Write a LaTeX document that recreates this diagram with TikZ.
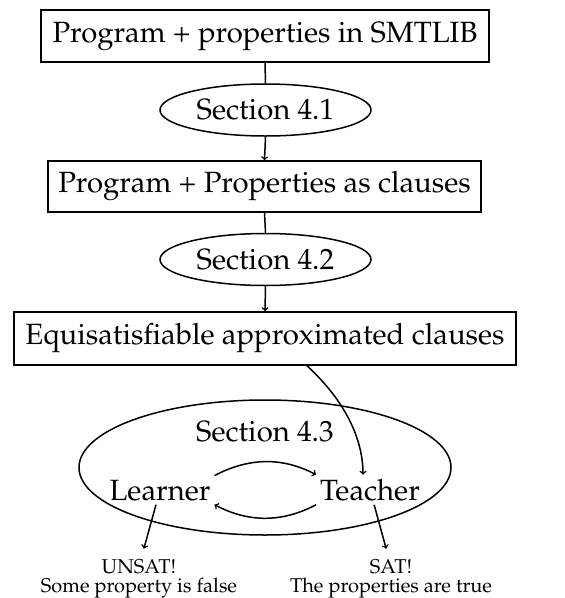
\documentclass[tikz,border=0pt]{standalone}
\usepackage[T1]{fontenc}
\renewcommand{\rmdefault}{ppl}
\usetikzlibrary{shapes.geometric}
\begin{document}
\begin{tikzpicture}[x=1pt,y=-1pt,
  line width=1.5pt,
  big/.style={font=\fontsize{29.3}{35}\selectfont},
  small/.style={font=\fontsize{20}{24}\selectfont, inner sep=2pt},
  box/.style={big, draw, rectangle, inner sep=0pt},
  sec/.style={big, draw, ellipse, inner sep=0pt, minimum width=211pt, minimum height=52pt},
  conn/.style={->}
]
\useasboundingbox (0,0) rectangle (565,598);
\node[box, minimum width=448pt, minimum height=52pt] (b1) at (265,36) {Program + properties in SMTLIB};
\node[sec] (s1) at (265.5,110) {Section 4.1};
\node[box, minimum width=433pt, minimum height=51pt] (b2) at (264.5,186.5) {Program + Properties as clauses};
\node[sec] (s2) at (265.5,259.5) {Section 4.2};
\node[box, minimum width=502pt, minimum height=53pt] (b3) at (265,338.5) {Equisatisfiable approximated clauses};
\node[draw, ellipse, minimum width=372pt, minimum height=135pt, inner sep=0pt] (big) at (265,467.5) {};
\node[big, anchor=base] (s3) at (265,441) {Section 4.3};
\node[big, anchor=base] (L) at (160,500) {Learner};
\node[big, anchor=base] (T) at (370,500) {Teacher};
\node[small, anchor=base] (u) at (139,573) {UNSAT!};
\node[small, anchor=base] (uf) at (139,592) {Some property is false};
\node[small, anchor=base] (s) at (391,573) {SAT!};
\node[small, anchor=base] (sf) at (391,592) {The properties are true};

\draw (b1.south) -- (s1.north);
\draw[conn] (s1.south) -- (b2.north);
\draw (b2.south) -- (s2.north);
\draw[conn] (s2.south) -- (b3.north);
\draw[conn] ([xshift=42pt]b3.south) .. controls +(38,35) and +(0,-36) .. ([xshift=-7pt]T.north);
\draw[conn] (L.north east) .. controls +(34,-18) and +(-34,-18) .. (T.north west);
\draw[conn] (T.south west) .. controls +(-34,18) and +(34,18) .. (L.south east);
\draw[conn, shorten >=8pt] (L) -- (u);
\draw[conn, shorten >=8pt] (T) -- (s);
\end{tikzpicture}
\end{document}
